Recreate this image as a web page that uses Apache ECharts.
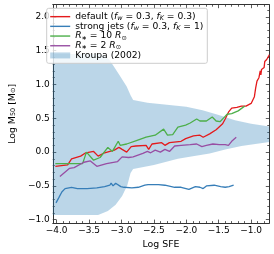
<!DOCTYPE html>
<html><head><meta charset="utf-8">
<script src="https://cdn.jsdelivr.net/npm/echarts@6/dist/echarts.min.js"></script>
<style>html,body{margin:0;padding:0;background:#fff}#c{width:274px;height:254px}</style>
</head><body><div id="c"></div>
<script>
// ---- tick values ----
const xMajor = [-4.0, -3.5, -3.0, -2.5, -2.0, -1.5, -1.0];
const xMinor = [-3.9,-3.8,-3.7,-3.6,-3.4,-3.3,-3.2,-3.1,-2.9,-2.8,-2.7,-2.6,-2.4,-2.3,-2.2,-2.1,-1.9,-1.8,-1.7,-1.6,-1.4,-1.3,-1.2,-1.1,-0.9,-0.8];
const yMajor = [-1.0, -0.5, 0.0, 0.5, 1.0, 1.5, 2.0];
const yMinor = [-0.9,-0.8,-0.7,-0.6,-0.4,-0.3,-0.2,-0.1,0.1,0.2,0.3,0.4,0.6,0.7,0.8,0.9,1.1,1.2,1.3,1.4,1.6,1.7,1.8,1.9,2.1];

// ---- default (f_w=0.3, f_K=0.3) ----
const defX = [-4.02,-3.83,-3.77,-3.63,-3.55,-3.43,-3.36,-3.26,-3.11,-3.04,-2.99,-2.92,-2.85,-2.78,-2.62,-2.58,-2.53,-2.38,-2.33,-2.26,-2.08,-2.01,-1.89,-1.79,-1.74,-1.64,-1.54,-1.44,-1.40,-1.35,-1.30,-1.22,-1.15,-1.08,-1.00,-0.97,-0.95,-0.93,-0.91,-0.88,-0.86,-0.85,-0.84,-0.80,-0.79,-0.76,-0.73,-0.72];
const defY = [-0.21,-0.19,-0.10,-0.06,-0.01,0.01,-0.06,-0.01,0.03,0.07,0.04,0.00,0.08,0.09,0.10,0.04,0.12,0.14,0.10,0.14,0.16,0.20,0.24,0.25,0.22,0.27,0.33,0.42,0.49,0.59,0.65,0.66,0.68,0.68,0.72,0.74,0.82,0.95,1.05,1.10,1.20,1.14,1.22,1.25,1.34,1.37,1.42,1.44];

// ---- strong jets (f_w=0.3, f_K=1) ----
const jetX = [-4.01,-3.97,-3.92,-3.87,-3.77,-3.68,-3.53,-3.38,-3.26,-3.18,-3.16,-3.13,-3.09,-3.01,-2.96,-2.84,-2.74,-2.64,-2.59,-2.43,-2.33,-2.18,-2.08,-1.96,-1.86,-1.79,-1.74,-1.69,-1.57,-1.47,-1.40,-1.34,-1.31,-1.27];
const jetY = [-0.75,-0.68,-0.59,-0.54,-0.52,-0.54,-0.54,-0.53,-0.51,-0.49,-0.46,-0.50,-0.46,-0.51,-0.52,-0.53,-0.52,-0.49,-0.48,-0.48,-0.49,-0.52,-0.52,-0.55,-0.51,-0.52,-0.54,-0.50,-0.49,-0.51,-0.52,-0.51,-0.49,-0.49];

// ---- R* = 10 Rsun ----
const r10X = [-4.02,-3.60,-3.54,-3.43,-3.33,-3.21,-3.14,-3.05,-3.02,-2.92,-2.77,-2.62,-2.48,-2.35,-2.29,-2.21,-2.13,-2.01,-1.94,-1.84,-1.79,-1.69,-1.60,-1.54,-1.48,-1.42,-1.37,-1.30,-1.20,-1.10];
const r10Y = [-0.17,-0.17,0.00,-0.12,-0.08,0.07,0.01,0.16,0.10,0.12,0.17,0.22,0.25,0.34,0.25,0.26,0.37,0.40,0.43,0.49,0.46,0.46,0.52,0.46,0.45,0.51,0.56,0.57,0.61,0.68];

// ---- R* = 2 Rsun ----
const r2X = [-3.95,-3.80,-3.73,-3.58,-3.48,-3.38,-3.23,-3.06,-2.99,-2.89,-2.82,-2.67,-2.60,-2.55,-2.48,-2.40,-2.33,-2.26,-2.18,-2.08,-1.94,-1.84,-1.76,-1.69,-1.59,-1.49,-1.40,-1.35,-1.30,-1.23];
const r2Y = [-0.36,-0.24,-0.23,-0.15,-0.13,-0.21,-0.17,-0.14,-0.07,-0.08,-0.07,-0.02,0.01,-0.01,0.03,0.00,0.04,0.01,0.09,0.10,0.11,0.12,0.08,0.10,0.12,0.11,0.11,0.10,0.16,0.22];

// ---- Kroupa (2002) band ----
const bandUpX = [-4.06,-3.35,-3.27,-3.19,-3.12,-3.02,-2.92,-2.86,-2.82,-2.60,-2.30,-2.00,-1.75,-1.50,-1.25,-1.00,-0.72];
const bandUpY = [1.45,1.45,1.43,1.37,1.27,1.12,0.97,0.84,0.77,0.73,0.70,0.67,0.62,0.55,0.47,0.42,0.38];
const bandLoX = [-4.06,-3.36,-3.21,-3.09,-2.99,-2.91,-2.86,-2.82,-2.50,-2.13,-1.90,-1.64,-1.40,-1.15,-0.72];
const bandLoY = [-0.93,-0.93,-0.87,-0.78,-0.65,-0.49,-0.31,-0.25,-0.19,-0.10,-0.06,-0.02,0.04,0.09,0.15];

const FONT = 'DejaVu Sans';
const zip = (a, b) => a.map((v, i) => [v, b[i]]);
const bandPoly = zip(bandUpX, bandUpY).concat(zip(bandLoX, bandLoY).reverse());

const fmt = v => (v < 0 ? '\u2212' : '') + Math.abs(v).toFixed(1);
const XMIN = -4.06, XMAX = -0.72, YMIN = -1.05, YMAX = 2.18;
const frame = '#333';

function xAx(pos, ticks, len, labels, line) {
  return {
    type: 'value', position: pos, min: XMIN, max: XMAX, gridIndex: 0,
    splitLine: {show: false},
    axisLine: {show: line, onZero: false, lineStyle: {color: frame, width: 1}},
    axisTick: {show: true, inside: true, length: len, customValues: ticks, lineStyle: {color: frame, width: 0.8}},
    axisLabel: {show: labels, customValues: ticks, formatter: fmt, fontFamily: FONT, fontSize: 9, color: '#000', margin: 3}
  };
}
function yAx(pos, ticks, len, labels, line) {
  return {
    type: 'value', position: pos, min: YMIN, max: YMAX, gridIndex: 0,
    splitLine: {show: false},
    axisLine: {show: line, onZero: false, lineStyle: {color: frame, width: 1}},
    axisTick: {show: true, inside: true, length: len, customValues: ticks, lineStyle: {color: frame, width: 0.8}},
    axisLabel: {show: labels, customValues: ticks, formatter: fmt, fontFamily: FONT, fontSize: 9, color: '#000', margin: 3}
  };
}

const xAxes = [xAx('bottom', xMajor, 3.5, true, true), xAx('top', xMajor, 3.5, false, true),
               xAx('bottom', xMinor, 2, false, false), xAx('top', xMinor, 2, false, false)];
xAxes[0].name = 'Log SFE';
xAxes[0].nameLocation = 'middle';
xAxes[0].nameGap = 14;
xAxes[0].nameTextStyle = {fontFamily: FONT, fontSize: 9.4, color: '#000'};
const yAxes = [yAx('left', yMajor, 3.5, true, true), yAx('right', yMajor, 3.5, false, true),
               yAx('left', yMinor, 2, false, false), yAx('right', yMinor, 2, false, false)];
yAxes[0].name = 'Log M{s|50} [M{s|\u2299}]';
yAxes[0].nameLocation = 'middle';
yAxes[0].nameGap = 27;
yAxes[0].nameTextStyle = {fontFamily: FONT, fontSize: 9.4, color: '#000',
  rich: {s: {fontFamily: FONT, fontSize: 6.5, color: '#000', verticalAlign: 'bottom', lineHeight: 5}}};

const labelMap = {
  'default': 'default ({i|f}{si|w} = 0.3, {i|f}{si|K} = 0.3)',
  'strong': 'strong jets ({i|f}{si|w} = 0.3, {i|f}{si|K} = 1)',
  'r10': '{i|R}{s|\u2217} = 10 {i|R}{s|\u2299}',
  'r2': '{i|R}{s|\u2217} = 2 {i|R}{s|\u2299}',
  'kroupa': 'Kroupa (2002)'
};
const lineIcon = 'path://M0,0H20V1.4H0Z';

function lineSeries(name, xs, ys, color) {
  return {
    type: 'line', name: name, data: zip(xs, ys), xAxisIndex: 0, yAxisIndex: 0,
    showSymbol: false, symbol: 'none', color: color,
    lineStyle: {color: color, width: 1.3}, z: 3, clip: true
  };
}

const option = {
  animation: false,
  grid: {left: 43, right: 4.7, top: 4.7, bottom: 28.7, containLabel: false},
  xAxis: xAxes,
  yAxis: yAxes,
  legend: {
    orient: 'vertical', left: 46.7, top: 8.3,
    padding: [3.5, 4, 3, 3.5], itemGap: 0, itemWidth: 20, itemHeight: 6,
    backgroundColor: 'rgba(255,255,255,0.8)', borderColor: '#cccccc', borderWidth: 1, borderRadius: 2,
    symbolKeepAspect: true,
    data: [
      {name: 'default', icon: lineIcon},
      {name: 'strong', icon: lineIcon},
      {name: 'r10', icon: lineIcon},
      {name: 'r2', icon: lineIcon},
      {name: 'kroupa', icon: 'rect'}
    ],
    formatter: n => labelMap[n],
    textStyle: {
      fontFamily: FONT, fontSize: 9.2, color: '#000', lineHeight: 9.7,
      rich: {
        i: {fontFamily: FONT, fontSize: 9.2, fontStyle: 'italic', color: '#000', lineHeight: 9.7},
        si: {fontFamily: FONT, fontSize: 6.4, fontStyle: 'italic', color: '#000', verticalAlign: 'bottom', lineHeight: 5},
        s: {fontFamily: FONT, fontSize: 6.4, color: '#000', verticalAlign: 'bottom', lineHeight: 5}
      }
    }
  },
  series: [
    {
      type: 'custom', name: 'kroupa', xAxisIndex: 0, yAxisIndex: 0,
      data: bandPoly, encode: {x: 0, y: 1}, z: 1,
      itemStyle: {color: 'rgba(31,119,180,0.3)'},
      renderItem: function (params, api) {
        if (params.dataIndex !== 0) return null;
        const pts = bandPoly.map(p => api.coord(p));
        return {type: 'polygon', shape: {points: pts}, style: {fill: 'rgba(31,119,180,0.3)', stroke: null}};
      }
    },
    lineSeries('default', defX, defY, '#e41a1c'),
    lineSeries('strong', jetX, jetY, '#377eb8'),
    lineSeries('r10', r10X, r10Y, '#4daf4a'),
    lineSeries('r2', r2X, r2Y, '#984ea3')
  ]
};
const chart = echarts.init(document.getElementById('c'), null, {renderer: 'canvas'});
chart.setOption(option);
</script>
</body></html>
